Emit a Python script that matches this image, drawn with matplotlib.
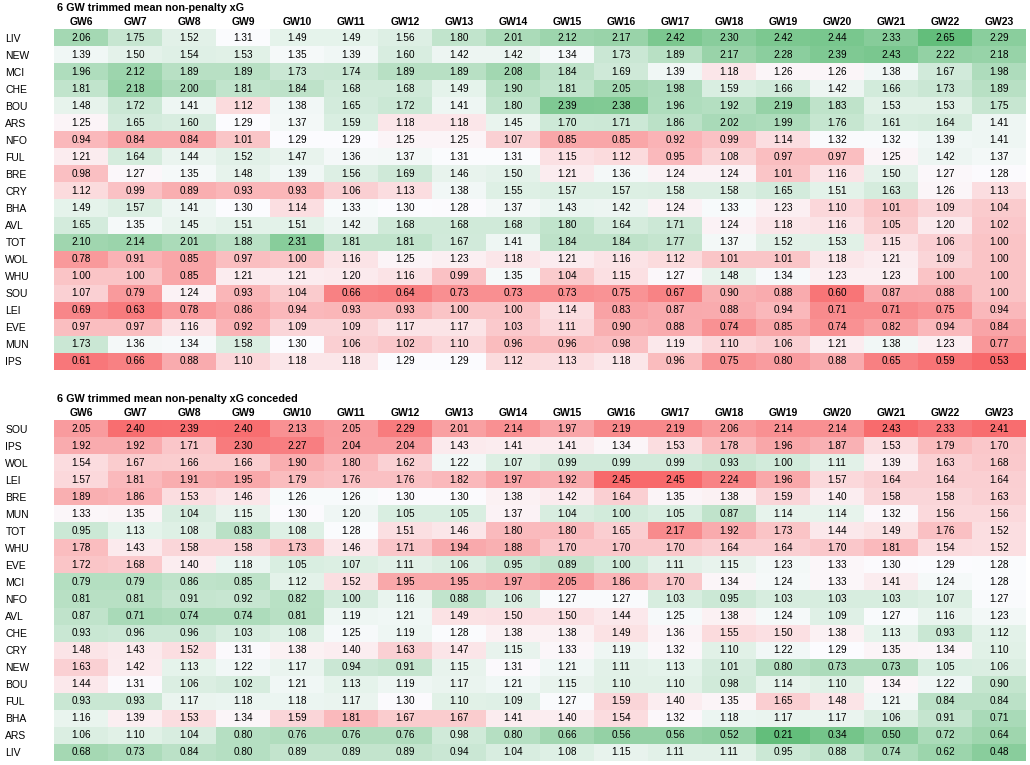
import numpy as np
import matplotlib
matplotlib.use("Agg")
from matplotlib import pyplot as plt
from matplotlib import colors

gws = ["GW%d" % i for i in range(6, 24)]

# 6 GW trimmed mean non-penalty xG
teams_for = ["LIV", "NEW", "MCI", "CHE", "BOU", "ARS", "NFO", "FUL", "BRE", "CRY",
             "BHA", "AVL", "TOT", "WOL", "WHU", "SOU", "LEI", "EVE", "MUN", "IPS"]
xg_for = [
    [2.06, 1.75, 1.52, 1.31, 1.49, 1.49, 1.56, 1.80, 2.01, 2.12, 2.17, 2.42, 2.30, 2.42, 2.44, 2.33, 2.65, 2.29],
    [1.39, 1.50, 1.54, 1.53, 1.35, 1.39, 1.60, 1.42, 1.42, 1.34, 1.73, 1.89, 2.17, 2.28, 2.39, 2.43, 2.22, 2.18],
    [1.96, 2.12, 1.89, 1.89, 1.73, 1.74, 1.89, 1.89, 2.08, 1.84, 1.69, 1.39, 1.18, 1.26, 1.26, 1.38, 1.67, 1.98],
    [1.81, 2.18, 2.00, 1.81, 1.84, 1.68, 1.68, 1.49, 1.90, 1.81, 2.05, 1.98, 1.59, 1.66, 1.42, 1.66, 1.73, 1.89],
    [1.48, 1.72, 1.41, 1.12, 1.38, 1.65, 1.72, 1.41, 1.80, 2.39, 2.38, 1.96, 1.92, 2.19, 1.83, 1.53, 1.53, 1.75],
    [1.25, 1.65, 1.60, 1.29, 1.37, 1.59, 1.18, 1.18, 1.45, 1.70, 1.71, 1.86, 2.02, 1.99, 1.76, 1.61, 1.64, 1.41],
    [0.94, 0.84, 0.84, 1.01, 1.29, 1.29, 1.25, 1.25, 1.07, 0.85, 0.85, 0.92, 0.99, 1.14, 1.32, 1.32, 1.39, 1.41],
    [1.21, 1.64, 1.44, 1.52, 1.47, 1.36, 1.37, 1.31, 1.31, 1.15, 1.12, 0.95, 1.08, 0.97, 0.97, 1.25, 1.42, 1.37],
    [0.98, 1.27, 1.35, 1.48, 1.39, 1.56, 1.69, 1.46, 1.50, 1.21, 1.36, 1.24, 1.24, 1.01, 1.16, 1.50, 1.27, 1.28],
    [1.12, 0.99, 0.89, 0.93, 0.93, 1.06, 1.13, 1.38, 1.55, 1.57, 1.57, 1.58, 1.58, 1.65, 1.51, 1.63, 1.26, 1.13],
    [1.49, 1.57, 1.41, 1.30, 1.14, 1.33, 1.30, 1.28, 1.37, 1.43, 1.42, 1.24, 1.33, 1.23, 1.10, 1.01, 1.09, 1.04],
    [1.65, 1.35, 1.45, 1.51, 1.51, 1.42, 1.68, 1.68, 1.68, 1.80, 1.64, 1.71, 1.24, 1.18, 1.16, 1.05, 1.20, 1.02],
    [2.10, 2.14, 2.01, 1.88, 2.31, 1.81, 1.81, 1.67, 1.41, 1.84, 1.84, 1.77, 1.37, 1.52, 1.53, 1.15, 1.06, 1.00],
    [0.78, 0.91, 0.85, 0.97, 1.00, 1.16, 1.25, 1.23, 1.18, 1.21, 1.16, 1.12, 1.01, 1.01, 1.18, 1.21, 1.09, 1.00],
    [1.00, 1.00, 0.85, 1.21, 1.21, 1.20, 1.16, 0.99, 1.35, 1.04, 1.15, 1.27, 1.48, 1.34, 1.23, 1.23, 1.00, 1.00],
    [1.07, 0.79, 1.24, 0.93, 1.04, 0.66, 0.64, 0.73, 0.73, 0.73, 0.75, 0.67, 0.90, 0.88, 0.60, 0.87, 0.88, 1.00],
    [0.69, 0.63, 0.78, 0.86, 0.94, 0.93, 0.93, 1.00, 1.00, 1.14, 0.83, 0.87, 0.88, 0.94, 0.71, 0.71, 0.75, 0.94],
    [0.97, 0.97, 1.16, 0.92, 1.09, 1.09, 1.17, 1.17, 1.03, 1.11, 0.90, 0.88, 0.74, 0.85, 0.74, 0.82, 0.94, 0.84],
    [1.73, 1.36, 1.34, 1.58, 1.30, 1.06, 1.02, 1.10, 0.96, 0.96, 0.98, 1.19, 1.10, 1.06, 1.21, 1.38, 1.23, 0.77],
    [0.61, 0.66, 0.88, 1.10, 1.18, 1.18, 1.29, 1.29, 1.12, 1.13, 1.18, 0.96, 0.75, 0.80, 0.88, 0.65, 0.59, 0.53],
]

# 6 GW trimmed mean non-penalty xG conceded
teams_against = ["SOU", "IPS", "WOL", "LEI", "BRE", "MUN", "TOT", "WHU", "EVE", "MCI",
                 "NFO", "AVL", "CHE", "CRY", "NEW", "BOU", "FUL", "BHA", "ARS", "LIV"]
xg_against = [
    [2.05, 2.40, 2.39, 2.40, 2.13, 2.05, 2.29, 2.01, 2.14, 1.97, 2.19, 2.19, 2.06, 2.14, 2.14, 2.43, 2.33, 2.41],
    [1.92, 1.92, 1.71, 2.30, 2.27, 2.04, 2.04, 1.43, 1.41, 1.41, 1.34, 1.53, 1.78, 1.96, 1.87, 1.53, 1.79, 1.70],
    [1.54, 1.67, 1.66, 1.66, 1.90, 1.80, 1.62, 1.22, 1.07, 0.99, 0.99, 0.99, 0.93, 1.00, 1.11, 1.39, 1.63, 1.68],
    [1.57, 1.81, 1.91, 1.95, 1.79, 1.76, 1.76, 1.82, 1.97, 1.92, 2.45, 2.45, 2.24, 1.96, 1.57, 1.64, 1.64, 1.64],
    [1.89, 1.86, 1.53, 1.46, 1.26, 1.26, 1.30, 1.30, 1.38, 1.42, 1.64, 1.35, 1.38, 1.59, 1.40, 1.58, 1.58, 1.63],
    [1.33, 1.35, 1.04, 1.15, 1.30, 1.20, 1.05, 1.05, 1.37, 1.04, 1.00, 1.05, 0.87, 1.14, 1.14, 1.32, 1.56, 1.56],
    [0.95, 1.13, 1.08, 0.83, 1.08, 1.28, 1.51, 1.46, 1.80, 1.80, 1.65, 2.17, 1.92, 1.73, 1.44, 1.49, 1.76, 1.52],
    [1.78, 1.43, 1.58, 1.58, 1.73, 1.46, 1.71, 1.94, 1.88, 1.70, 1.70, 1.70, 1.64, 1.64, 1.70, 1.81, 1.54, 1.52],
    [1.72, 1.68, 1.40, 1.18, 1.05, 1.07, 1.11, 1.06, 0.95, 0.89, 1.00, 1.11, 1.15, 1.23, 1.33, 1.30, 1.29, 1.28],
    [0.79, 0.79, 0.86, 0.85, 1.12, 1.52, 1.95, 1.95, 1.97, 2.05, 1.86, 1.70, 1.34, 1.24, 1.33, 1.41, 1.24, 1.28],
    [0.81, 0.81, 0.91, 0.92, 0.82, 1.00, 1.16, 0.88, 1.06, 1.27, 1.27, 1.03, 0.95, 1.03, 1.03, 1.03, 1.07, 1.27],
    [0.87, 0.71, 0.74, 0.74, 0.81, 1.19, 1.21, 1.49, 1.50, 1.50, 1.44, 1.25, 1.38, 1.24, 1.09, 1.27, 1.16, 1.23],
    [0.93, 0.96, 0.96, 1.03, 1.08, 1.25, 1.19, 1.28, 1.38, 1.38, 1.49, 1.36, 1.55, 1.50, 1.38, 1.13, 0.93, 1.12],
    [1.48, 1.43, 1.52, 1.31, 1.38, 1.40, 1.63, 1.47, 1.15, 1.33, 1.19, 1.32, 1.10, 1.22, 1.29, 1.35, 1.34, 1.10],
    [1.63, 1.42, 1.13, 1.22, 1.17, 0.94, 0.91, 1.15, 1.31, 1.21, 1.11, 1.13, 1.01, 0.80, 0.73, 0.73, 1.05, 1.06],
    [1.44, 1.31, 1.06, 1.02, 1.21, 1.13, 1.19, 1.17, 1.21, 1.15, 1.10, 1.10, 0.98, 1.14, 1.10, 1.34, 1.22, 0.90],
    [0.93, 0.93, 1.17, 1.18, 1.18, 1.17, 1.30, 1.10, 1.09, 1.27, 1.59, 1.40, 1.35, 1.65, 1.48, 1.21, 0.84, 0.84],
    [1.16, 1.39, 1.53, 1.34, 1.59, 1.81, 1.67, 1.67, 1.41, 1.40, 1.54, 1.32, 1.18, 1.17, 1.17, 1.06, 0.91, 0.71],
    [1.06, 1.10, 1.04, 0.80, 0.76, 0.76, 0.76, 0.98, 0.80, 0.66, 0.56, 0.56, 0.52, 0.21, 0.34, 0.50, 0.72, 0.64],
    [0.68, 0.73, 0.84, 0.80, 0.89, 0.89, 0.89, 0.94, 1.04, 1.08, 1.15, 1.11, 1.11, 0.95, 0.88, 0.74, 0.62, 0.48],
]

W, H = 1030, 765
plt.rcParams['font.family'] = ['Liberation Sans', 'DejaVu Sans']

# excel style 3 colour scale
rwg = colors.LinearSegmentedColormap.from_list(
    "rwg", ["#F8696B", "#FCFCFF", "#63BE7B"])


def draw_table(fig, top_px, bottom_px, title, teams, vals, cmap):
    vals = np.array(vals)
    ax = fig.add_axes([54 / W, 1 - bottom_px / H, 972 / W, (bottom_px - top_px) / H])
    norm = colors.TwoSlopeNorm(vcenter=np.median(vals), vmin=vals.min(), vmax=vals.max())
    ax.imshow(vals, cmap=cmap, norm=norm, aspect='auto', interpolation='nearest')
    for i in range(vals.shape[0]):
        for j in range(vals.shape[1]):
            ax.text(j, i, "%.2f" % vals[i, j], ha='center', va='center', fontsize=7.2)
    ax.xaxis.tick_top()
    ax.set_xticks(range(len(gws)))
    ax.set_xticklabels(gws, fontsize=7.5, fontweight='bold')
    ax.set_yticks(range(len(teams)))
    ax.set_yticklabels(teams, fontsize=7.5, ha='left')
    ax.tick_params(length=0, axis='x', pad=1.5)
    ax.tick_params(length=0, axis='y', pad=35)
    for s in ax.spines.values():
        s.set_visible(False)
    fig.text(57 / W, 1 - (top_px - 21.5) / H, title, fontsize=7.8, fontweight='bold',
             va='center', ha='left')
    return ax


fig = plt.figure(figsize=(W / 100, H / 100), dpi=100)
draw_table(fig, 29.3, 370, "6 GW trimmed mean non-penalty xG", teams_for, xg_for, rwg)
draw_table(fig, 420, 761, "6 GW trimmed mean non-penalty xG conceded", teams_against,
           xg_against, rwg.reversed())

fig.savefig("out.png", dpi=100)
